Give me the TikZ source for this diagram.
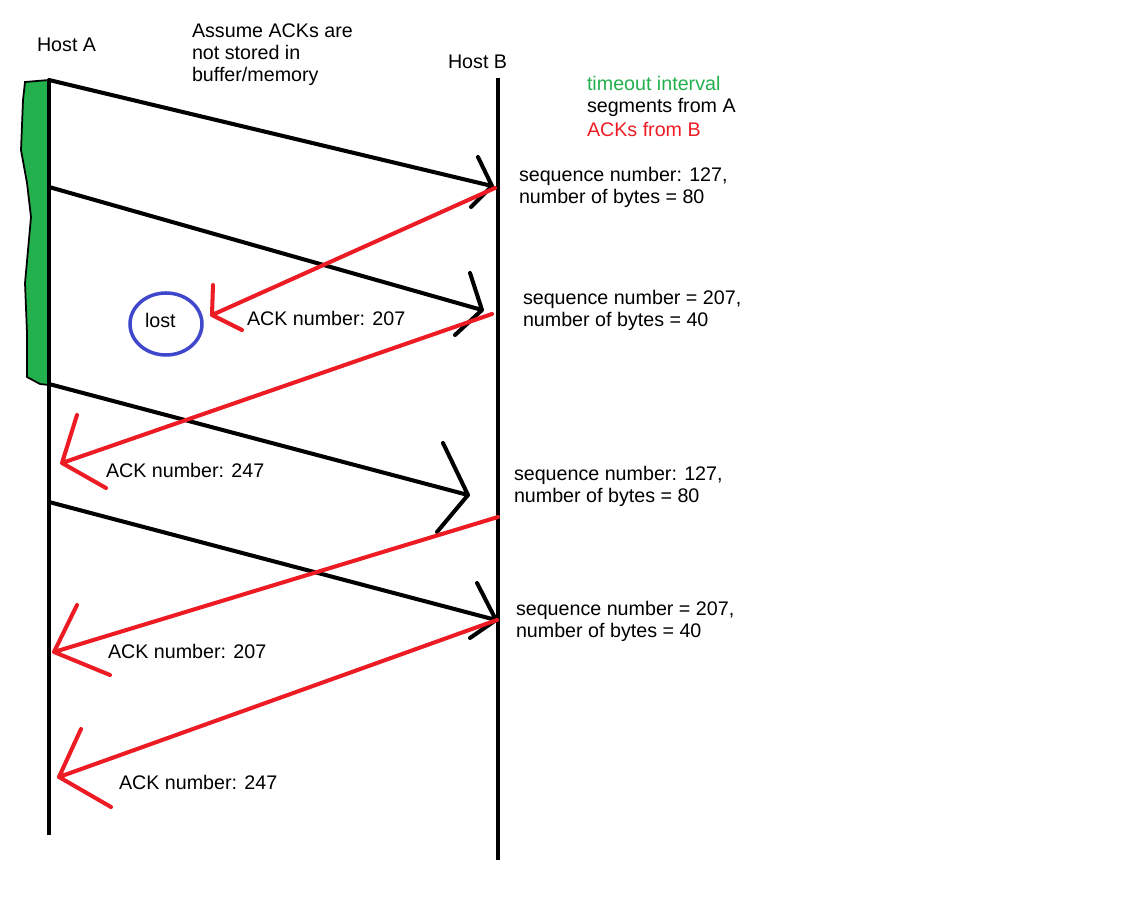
\documentclass[tikz,border=0pt]{standalone}
\usepackage{fontspec}
\setmainfont{Liberation Sans}
\usetikzlibrary{positioning,calc}
\definecolor{paintgreen}{RGB}{34,177,76}
\definecolor{paintred}{RGB}{237,28,36}
\definecolor{paintblue}{RGB}{63,72,204}
\colorlet{timeout}{paintgreen}
\colorlet{segcolor}{black}
\colorlet{ackcolor}{paintred}
\colorlet{lostcolor}{paintblue}
\begin{document}
\begin{tikzpicture}[x=0.02cm,y=-0.02cm,line width=2.3pt,
    lbl/.style={anchor=base west,inner sep=0,align=left,font=\fontsize{11.2}{12.8}\selectfont},
    seg/.style={segcolor,line cap=round},
    ackline/.style={ackcolor,line cap=round}]
  \useasboundingbox (0,0) rectangle (1130,898);
  % timeout bar
  \filldraw [timeout,draw=black,line width=1pt] (49,80) -- (25,82) -- (23,100) -- (21,150) -- (27,183) -- (31,217)
    -- (28,250) -- (25,283) -- (27,333) -- (27,377) -- (40,384) -- (49,385) -- cycle;
  % hosts
  \node [lbl] (hostA) at (35,52) {Host A};
  \node [lbl] (hostB) at (446,69) {Host B};
  \coordinate (Atop) at (49,80);
  \coordinate (Abot) at (49,835);
  \coordinate (Btop) at (498,78);
  \coordinate (Bbot) at (498,860);
  \draw [segcolor] (Atop) -- (Abot);
  \draw [segcolor] (Btop) -- (Bbot);
  % notes (base = last line)
  \node [lbl] (note) at (190,82) {Assume ACKs are\\not stored in\\buffer/memory};
  \node [lbl,timeout] (leg1) at (585,91) {timeout interval};
  \node [lbl] (leg2) at (585,113) {segments from A};
  \node [lbl,ackcolor] (leg3) at (585,137) {ACKs from B};
  % segments from A
  \coordinate (s1a) at (49,80);   \coordinate (s1b) at (492,186);
  \coordinate (s2a) at (49,187);  \coordinate (s2b) at (482,310);
  \coordinate (s3a) at (49,384);  \coordinate (s3b) at (468,495);
  \coordinate (s4a) at (49,502);  \coordinate (s4b) at (496,620);
  \draw [seg] (s1a) -- (s1b) (s1b) -- ++(-14,-29) (s1b) -- ++(-21,21);
  \draw [seg] (s2a) -- (s2b) (s2b) -- ++(-12,-37) (s2b) -- ++(-27,25);
  \draw [seg] (s3a) -- (s3b) (s3b) -- ++(-25,-52) (s3b) -- ++(-31,37);
  \draw [seg] (s4a) -- (s4b) (s4b) -- ++(-19,-37) (s4b) -- ++(-26,18);
  % ACKs from B
  \coordinate (r1a) at (495,188); \coordinate (r1b) at (212,315);
  \coordinate (r2a) at (492,314); \coordinate (r2b) at (62,463);
  \coordinate (r3a) at (498,517); \coordinate (r3b) at (54,652);
  \coordinate (r4a) at (497,620); \coordinate (r4b) at (59,777);
  \draw [ackline] (r1a) -- (r1b) (r1b) -- ++(1,-30) (r1b) -- ++(30,15);
  \draw [ackline] (r2a) -- (r2b) (r2b) -- ++(15,-48) (r2b) -- ++(44,25);
  \draw [ackline] (r3a) -- (r3b) (r3b) -- ++(23,-47) (r3b) -- ++(56,23);
  \draw [ackline] (r4a) -- (r4b) (r4b) -- ++(22,-48) (r4b) -- ++(52,30);
  % lost ACK
  \draw [lostcolor,line width=2pt] (166,324) ellipse [x radius=36,y radius=31];
  \node [lbl] (lost) at (143,328) {lost};
  % labels
  \node [lbl] (ack1) at (245,326) {ACK number: 207};
  \node [lbl] (ack2) at (104,478) {ACK number: 247};
  \node [lbl] (ack3) at (106,659) {ACK number: 207};
  \node [lbl] (ack4) at (117,789) {ACK number: 247};
  \node [lbl] (seq1) at (517,204) {sequence number: 127,\\number of bytes = 80};
  \node [lbl] (seq2) at (521,327) {sequence number = 207,\\number of bytes = 40};
  \node [lbl] (seq3) at (512,503) {sequence number: 127,\\number of bytes = 80};
  \node [lbl] (seq4) at (514,638) {sequence number = 207,\\number of bytes = 40};
\end{tikzpicture}
\end{document}
